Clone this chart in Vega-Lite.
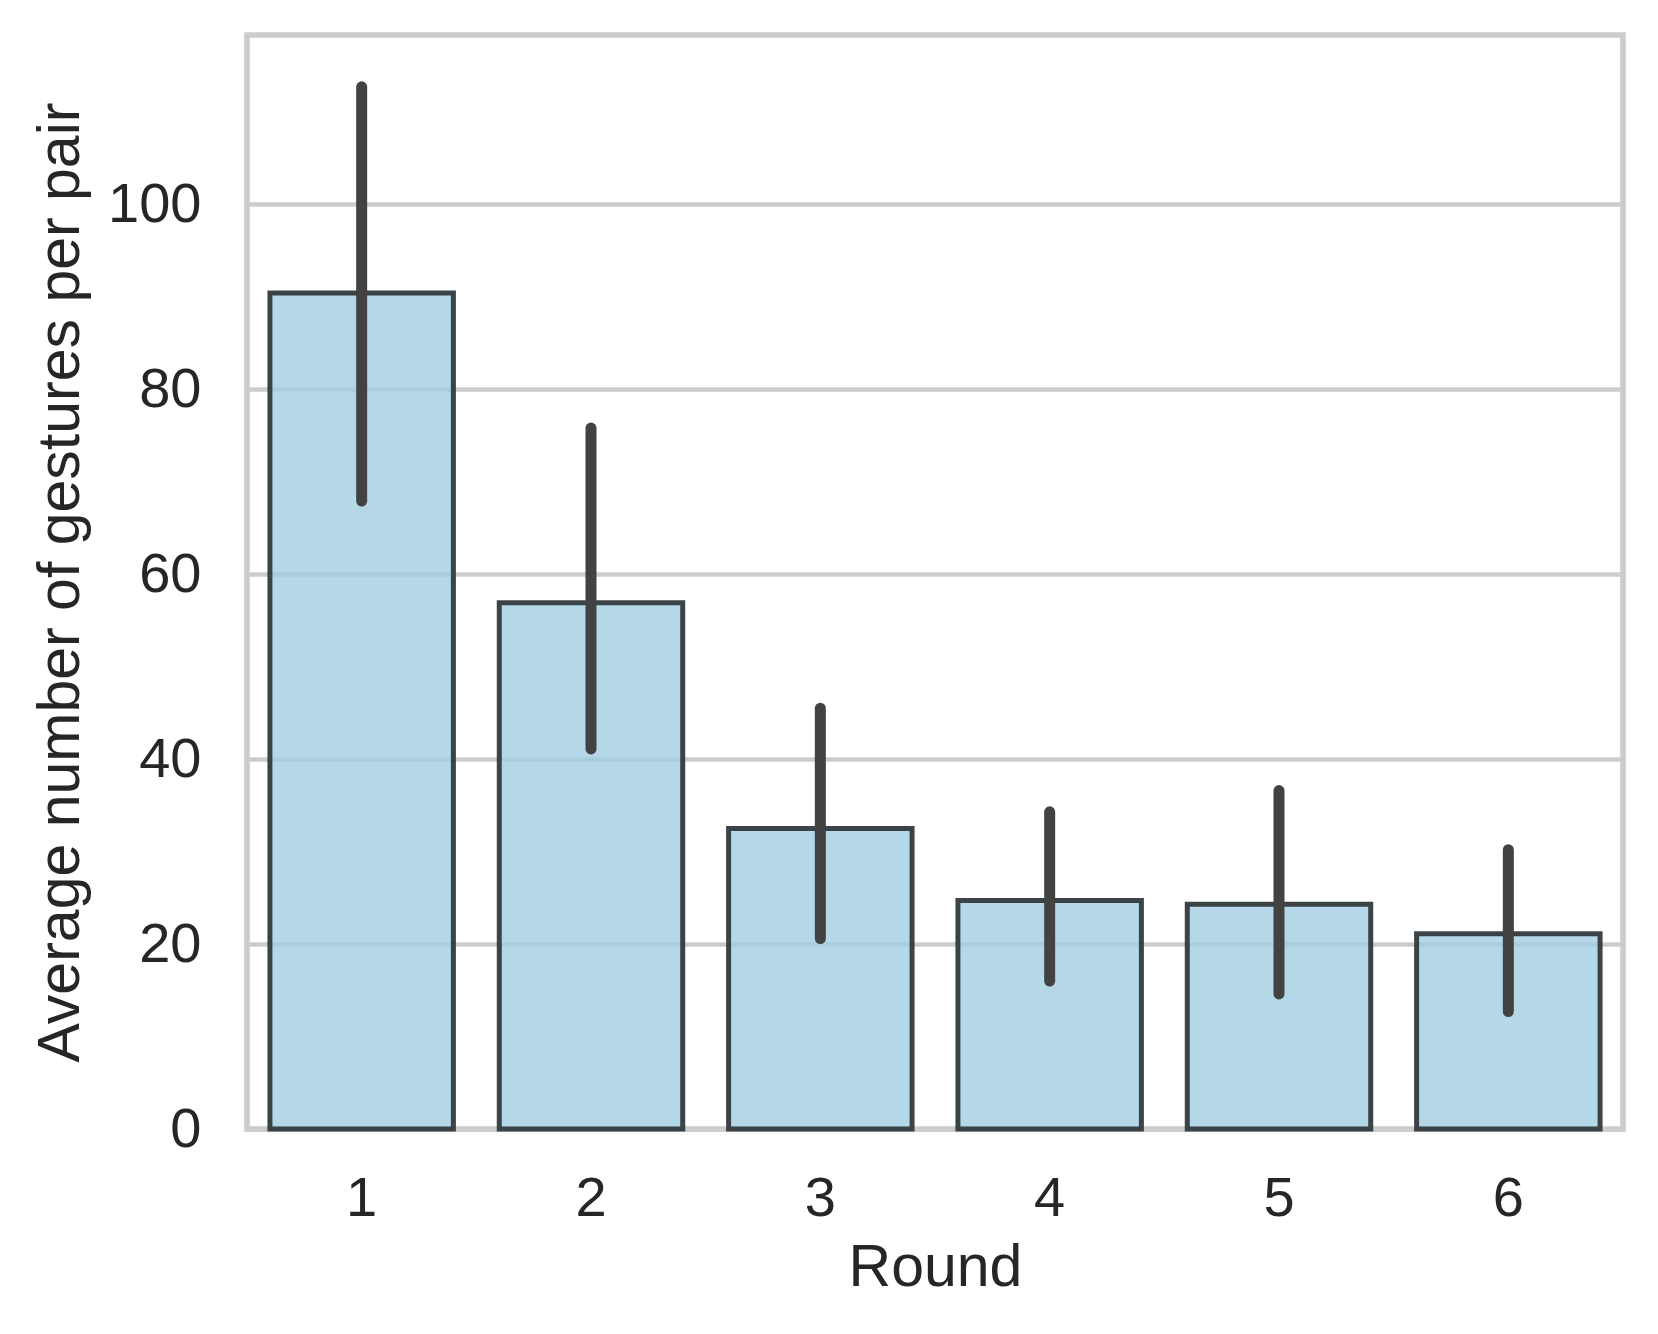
{
  "$schema": "https://vega.github.io/schema/vega-lite/v6.json",
  "autosize": "none",
  "width": 1376,
  "height": 1094,
  "padding": {"left": 247, "top": 35, "right": 35, "bottom": 205},
  "background": "white",
  "config": {
    "view": {"stroke": "#cccccc", "strokeWidth": 5.5},
    "font": "Liberation Sans",
    "axis": {
      "labelFont": "Liberation Sans",
      "titleFont": "Liberation Sans",
      "labelColor": "#262626",
      "titleColor": "#262626",
      "titleFontWeight": "normal",
      "domain": false,
      "ticks": false,
      "gridColor": "#cccccc",
      "gridWidth": 4.5
    }
  },
  "data": {
    "values": [
      {"Round": "1", "mean": 90.4, "lo": 67.9, "hi": 112.7},
      {"Round": "2", "mean": 56.9, "lo": 41.1, "hi": 75.8},
      {"Round": "3", "mean": 32.5, "lo": 20.6, "hi": 45.5},
      {"Round": "4", "mean": 24.7, "lo": 16.0, "hi": 34.3},
      {"Round": "5", "mean": 24.3, "lo": 14.6, "hi": 36.6},
      {"Round": "6", "mean": 21.1, "lo": 12.7, "hi": 30.2}
    ]
  },
  "encoding": {
    "x": {
      "field": "Round",
      "type": "ordinal",
      "scale": {"paddingInner": 0.2, "paddingOuter": 0.1},
      "axis": {
        "title": "Round",
        "labelAngle": 0,
        "labelFontSize": 56,
        "titleFontSize": 59,
        "labelPadding": 42,
        "titlePadding": 12,
        "grid": false
      }
    }
  },
  "layer": [
    {
      "mark": {"type": "bar", "fill": "#a1cee2", "fillOpacity": 0.8, "stroke": "#333a3e", "strokeOpacity": 0.95, "strokeWidth": 5},
      "encoding": {
        "y": {
          "field": "mean",
          "type": "quantitative",
          "scale": {"domain": [0, 118.3], "nice": false, "zero": true},
          "axis": {
            "title": "Average number of gestures per pair",
            "values": [0, 20, 40, 60, 80, 100],
            "labelFontSize": 56,
            "titleFontSize": 59,
            "labelPadding": 46,
            "titlePadding": 17,
            "grid": true
          }
        }
      }
    },
    {
      "mark": {"type": "rule", "color": "#424242", "strokeWidth": 11, "strokeCap": "round"},
      "encoding": {
        "y": {"field": "lo", "type": "quantitative"},
        "y2": {"field": "hi"}
      }
    }
  ]
}
